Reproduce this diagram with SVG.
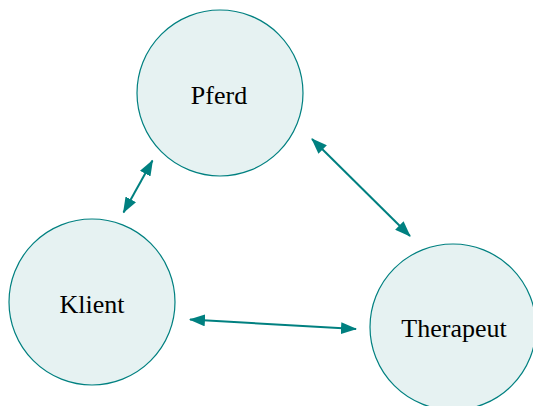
<svg xmlns="http://www.w3.org/2000/svg" width="533" height="406" viewBox="0 0 533 406">
<style>
.node circle{fill:#e6f2f2;stroke:#008080;stroke-width:1.2}
.node text{font-family:"Liberation Serif","Times New Roman",serif;font-size:26px;fill:#000;text-anchor:middle;dominant-baseline:central}
.edge{stroke:#008080;stroke-width:2;fill:none;marker-start:url(#a);marker-end:url(#a)}
</style>
<defs>
<marker id="a" viewBox="0 0 16 12" refX="15" refY="6" markerWidth="16" markerHeight="12" markerUnits="userSpaceOnUse" orient="auto-start-reverse">
<path d="M0,0 L16,6 L0,12 Z" fill="#008080"/>
</marker>
</defs>
<rect width="533" height="406" fill="#fff"/>
<g id="pferd" class="node"><circle cx="220" cy="93" r="83"/><text x="219" y="95">Pferd</text></g>
<g id="klient" class="node"><circle cx="92" cy="302" r="83"/><text x="92" y="304">Klient</text></g>
<g id="therapeut" class="node"><circle cx="453" cy="327" r="83"/><text x="454" y="328">Therapeut</text></g>
<g id="connectors">
<line class="edge" x1="152.5" y1="160.5" x2="123.5" y2="212.5"/>
<line class="edge" x1="312" y1="139" x2="410" y2="236"/>
<line class="edge" x1="190" y1="319.5" x2="356" y2="329"/>
</g>
</svg>
